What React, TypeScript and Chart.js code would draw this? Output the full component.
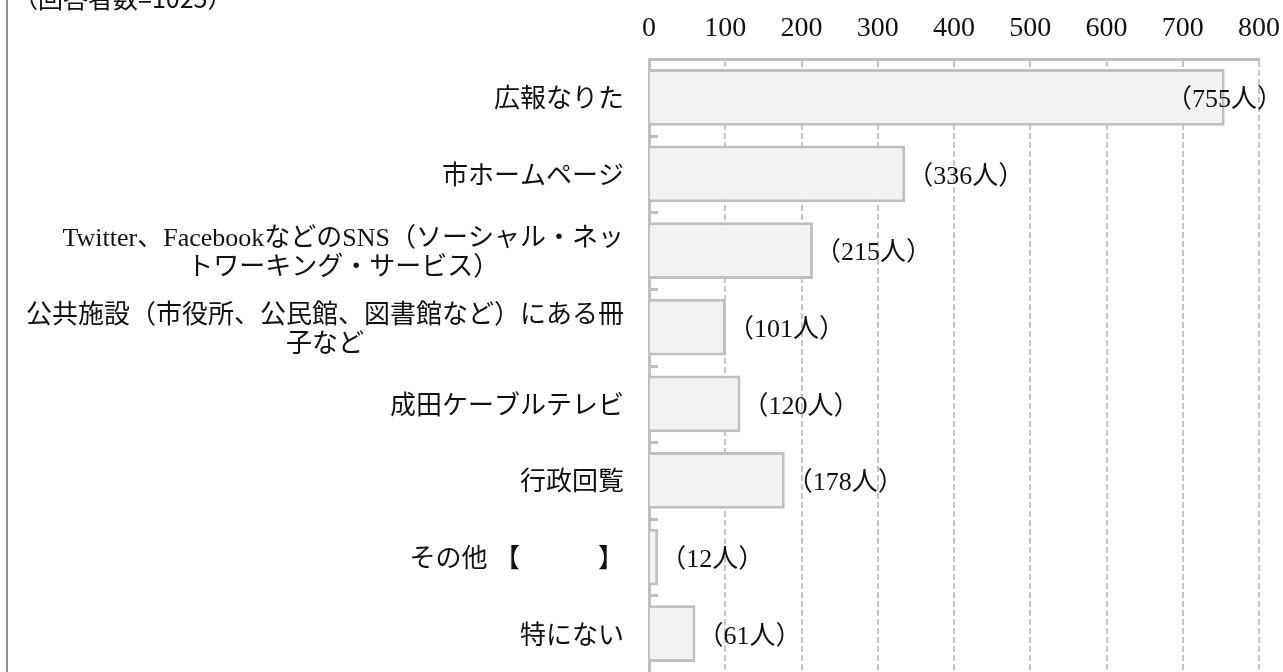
import React, { useEffect, useRef } from "react";
import { Chart, registerables } from "chart.js";

Chart.register(...registerables);

// ---- data ----
const categories: string[][] = [
  ["広報なりた"],
  ["市ホームページ"],
  ["Twitter、FacebookなどのSNS（ソーシャル・ネッ", "トワーキング・サービス）"],
  ["公共施設（市役所、公民館、図書館など）にある冊", "子など"],
  ["成田ケーブルテレビ"],
  ["行政回覧"],
  ["その他 【　　　】"],
  ["特にない"],
];
const counts: number[] = [755, 336, 215, 101, 120, 178, 12, 61];
const unitLabel = "人";
const titleText = "（回答者数=1025）";
const xMin = 0;
const xMax = 800;
const xStep = 100;

const SERIF = '"Liberation Serif", "Noto Sans CJK JP", serif';
const GRAY = "#bfbfbf";

const decorPlugin = {
  id: "decor",
  afterDraw(chart: any) {
    const ctx = chart.ctx as CanvasRenderingContext2D;
    const ys = chart.scales.y;
    const area = chart.chartArea;
    ctx.save();

    // left frame line
    ctx.fillStyle = "#8f8f8f";
    ctx.fillRect(6, 0, 2, chart.height);

    // title
    ctx.font = '25px "Noto Sans CJK JP", sans-serif';
    ctx.fillStyle = "#111";
    ctx.textAlign = "left";
    ctx.textBaseline = "alphabetic";
    ctx.fillText(titleText, 13, 8);

    // inner tick marks at category boundaries
    ctx.strokeStyle = GRAY;
    ctx.lineWidth = 3;
    for (let i = 0; i < categories.length - 1; i++) {
      const y = Math.round((ys.getPixelForValue(i) + ys.getPixelForValue(i + 1)) / 2) + 0.5;
      ctx.beginPath();
      ctx.moveTo(area.left, y);
      ctx.lineTo(area.left + 9, y);
      ctx.stroke();
    }

    // category labels (block right-aligned, lines centred within block)
    ctx.font = `26px ${SERIF}`;
    ctx.fillStyle = "#111";
    ctx.textAlign = "center";
    ctx.textBaseline = "middle";
    const right = area.left - 25;
    const lh = 29;
    categories.forEach((lines, i) => {
      const cy = ys.getPixelForValue(i) + 3;
      const w = Math.max(...lines.map((l) => ctx.measureText(l).width));
      const cx = right - w / 2;
      lines.forEach((l, j) => {
        ctx.fillText(l, cx, cy + (j - (lines.length - 1) / 2) * lh);
      });
    });

    // value labels
    ctx.font = `26px ${SERIF}`;
    ctx.textAlign = "left";
    const meta = chart.getDatasetMeta(0);
    meta.data.forEach((bar: any, i: number) => {
      const text = `（${counts[i]}${unitLabel}）`;
      const w = ctx.measureText(text).width;
      let x = bar.x + 2;
      if (x + w > chart.width) x = chart.width - w;
      ctx.fillText(text, x, bar.y + 3);
    });

    ctx.restore();
  },
};

export default function App() {
  const canvasRef = useRef<HTMLCanvasElement | null>(null);

  useEffect(() => {
    if (!canvasRef.current) return;
    const chart = new Chart(canvasRef.current, {
      type: "bar",
      data: {
        labels: categories.map((c) => c.join("")),
        datasets: [
          {
            data: counts,
            backgroundColor: "#f2f2f2",
            borderColor: GRAY,
            borderWidth: 3,
            barPercentage: 0.74,
            categoryPercentage: 1,
          },
        ],
      },
      options: {
        indexAxis: "y",
        animation: false,
        responsive: true,
        maintainAspectRatio: false,
        layout: { padding: { left: 0, right: 24, top: 0, bottom: 0 } },
        plugins: {
          legend: { display: false },
          tooltip: { enabled: false },
          title: { display: false },
        },
        scales: {
          x: {
            position: "top",
            min: xMin,
            max: xMax,
            ticks: {
              stepSize: xStep,
              padding: 14,
              color: "#111",
              font: { family: SERIF, size: 28 },
            },
            grid: { color: "#c4c4c4", lineWidth: 2, drawTicks: false },
            border: { display: true, color: GRAY, width: 3, dash: [6, 3] },
            afterFit: (s: any) => {
              s.height = 59;
              s.paddingLeft = 0;
              s.paddingRight = 0;
            },
          },
          y: {
            ticks: { display: false },
            grid: { display: false },
            border: { display: true, color: GRAY, width: 3 },
            afterFit: (s: any) => {
              s.width = 649;
            },
          },
        },
      },
      plugins: [decorPlugin],
    });
    return () => chart.destroy();
  }, []);

  return (
    <div style={{ position: "fixed", left: 0, top: 0, width: 1283, height: 672, background: "#fff" }}>
      <canvas ref={canvasRef} />
    </div>
  );
}
